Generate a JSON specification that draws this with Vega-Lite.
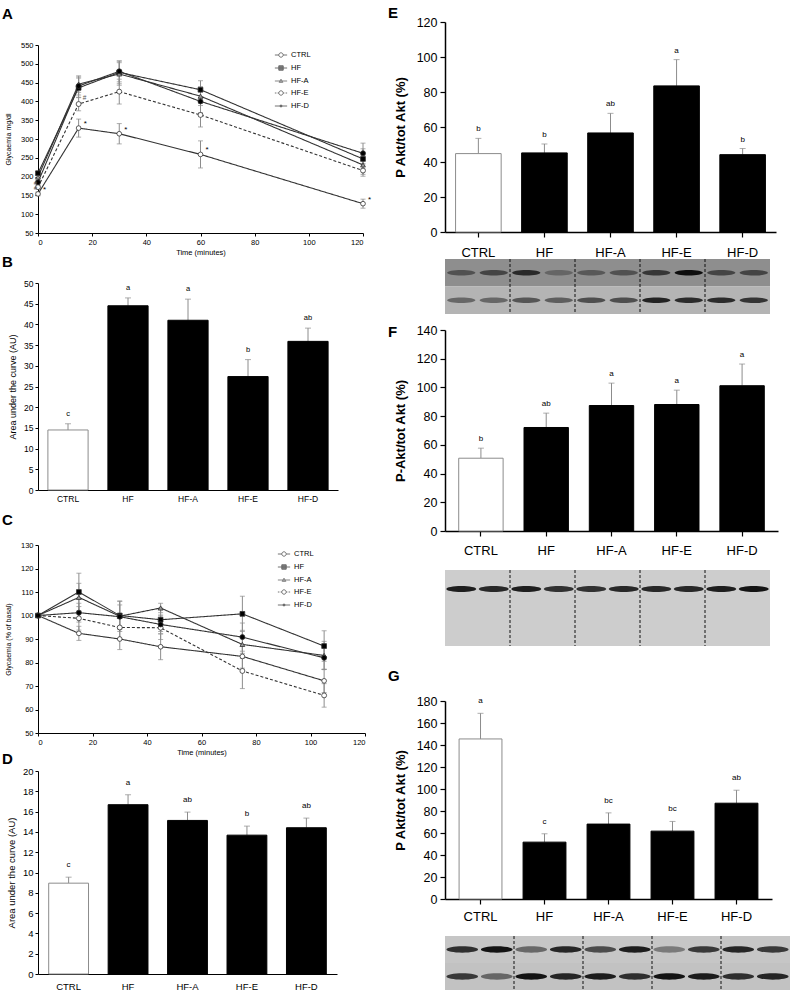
{
"$schema": "https://vega.github.io/schema/vega-lite/v6.json",
"background": "white",
"padding": {"left": 2, "top": 6, "right": 0, "bottom": 0},
"config": {
  "font": "Liberation Sans",
  "view": {"stroke": null},
  "axis": {"grid": false, "domainColor": "#000", "tickColor": "#000", "labelColor": "#000", "titleColor": "#000", "titleFontWeight": "normal", "domainWidth": 1, "tickWidth": 1},
  "title": {"anchor": "start", "frame": "group", "fontSize": 15, "fontWeight": "bold", "color": "#000"},
  "legend": {"labelColor": "#000"}
},
"datasets": {
  "glu": [
    {"t": 0, "g": "CTRL", "v": 154, "e": 5, "sig": "*"},
    {"t": 15, "g": "CTRL", "v": 329, "e": 24, "sig": "*"},
    {"t": 30, "g": "CTRL", "v": 314, "e": 27, "sig": "*"},
    {"t": 60, "g": "CTRL", "v": 259, "e": 36, "sig": "*"},
    {"t": 120, "g": "CTRL", "v": 128, "e": 12, "sig": "*"},
    {"t": 0, "g": "HF", "v": 209, "e": 5},
    {"t": 15, "g": "HF", "v": 436, "e": 26},
    {"t": 30, "g": "HF", "v": 477, "e": 30},
    {"t": 60, "g": "HF", "v": 431, "e": 24},
    {"t": 120, "g": "HF", "v": 247, "e": 27},
    {"t": 0, "g": "HF-A", "v": 199, "e": 5},
    {"t": 15, "g": "HF-A", "v": 446, "e": 22},
    {"t": 30, "g": "HF-A", "v": 473, "e": 30},
    {"t": 60, "g": "HF-A", "v": 414, "e": 25},
    {"t": 120, "g": "HF-A", "v": 231, "e": 25},
    {"t": 0, "g": "HF-E", "v": 172, "e": 5, "sig": "#"},
    {"t": 15, "g": "HF-E", "v": 393, "e": 18, "sig": "#"},
    {"t": 30, "g": "HF-E", "v": 426, "e": 33},
    {"t": 60, "g": "HF-E", "v": 364, "e": 32},
    {"t": 120, "g": "HF-E", "v": 216, "e": 15},
    {"t": 0, "g": "HF-D", "v": 185, "e": 5, "sig": "#"},
    {"t": 15, "g": "HF-D", "v": 441, "e": 24},
    {"t": 30, "g": "HF-D", "v": 480, "e": 28},
    {"t": 60, "g": "HF-D", "v": 400, "e": 30},
    {"t": 120, "g": "HF-D", "v": 262, "e": 27}
  ],
  "itt": [
    {"t": 0, "g": "CTRL", "v": 100, "e": 0},
    {"t": 15, "g": "CTRL", "v": 92.4, "e": 3},
    {"t": 30, "g": "CTRL", "v": 90, "e": 4.5},
    {"t": 45, "g": "CTRL", "v": 86.7, "e": 5.5},
    {"t": 75, "g": "CTRL", "v": 82.6, "e": 5},
    {"t": 105, "g": "CTRL", "v": 72.2, "e": 5},
    {"t": 0, "g": "HF", "v": 100, "e": 0},
    {"t": 15, "g": "HF", "v": 110, "e": 8},
    {"t": 30, "g": "HF", "v": 100, "e": 6},
    {"t": 45, "g": "HF", "v": 98.2, "e": 5},
    {"t": 75, "g": "HF", "v": 100.7, "e": 7.5},
    {"t": 105, "g": "HF", "v": 87, "e": 6.5},
    {"t": 0, "g": "HF-A", "v": 100, "e": 0},
    {"t": 15, "g": "HF-A", "v": 107.7, "e": 6},
    {"t": 30, "g": "HF-A", "v": 99.7, "e": 6.5},
    {"t": 45, "g": "HF-A", "v": 103.2, "e": 2},
    {"t": 75, "g": "HF-A", "v": 87.7, "e": 6},
    {"t": 105, "g": "HF-A", "v": 83, "e": 6},
    {"t": 0, "g": "HF-E", "v": 100, "e": 0},
    {"t": 15, "g": "HF-E", "v": 98.8, "e": 5},
    {"t": 30, "g": "HF-E", "v": 94.9, "e": 5},
    {"t": 45, "g": "HF-E", "v": 94.8, "e": 5},
    {"t": 75, "g": "HF-E", "v": 76.4, "e": 7.5},
    {"t": 105, "g": "HF-E", "v": 66, "e": 5},
    {"t": 0, "g": "HF-D", "v": 100, "e": 0},
    {"t": 15, "g": "HF-D", "v": 101.2, "e": 4},
    {"t": 30, "g": "HF-D", "v": 99.5, "e": 5},
    {"t": 45, "g": "HF-D", "v": 96.2, "e": 4},
    {"t": 75, "g": "HF-D", "v": 90.8, "e": 6},
    {"t": 105, "g": "HF-D", "v": 82, "e": 5}
  ],
  "barB": [
    {"g": "CTRL", "v": 14.5, "hi": 16.0, "lab": "c"},
    {"g": "HF", "v": 44.5, "hi": 46.4, "lab": "a"},
    {"g": "HF-A", "v": 41.0, "hi": 46.1, "lab": "a"},
    {"g": "HF-E", "v": 27.4, "hi": 31.5, "lab": "b"},
    {"g": "HF-D", "v": 35.9, "hi": 39.1, "lab": "ab"}
  ],
  "barD": [
    {"g": "CTRL", "v": 8.95, "hi": 9.54, "lab": "c"},
    {"g": "HF", "v": 16.68, "hi": 17.66, "lab": "a"},
    {"g": "HF-A", "v": 15.13, "hi": 15.95, "lab": "ab"},
    {"g": "HF-E", "v": 13.68, "hi": 14.57, "lab": "b"},
    {"g": "HF-D", "v": 14.41, "hi": 15.36, "lab": "ab"}
  ],
  "barE": [
    {"g": "CTRL", "v": 44.8, "hi": 53.5, "lab": "b"},
    {"g": "HF", "v": 45.2, "hi": 50.3, "lab": "b"},
    {"g": "HF-A", "v": 56.6, "hi": 67.8, "lab": "ab"},
    {"g": "HF-E", "v": 83.5, "hi": 98.5, "lab": "a"},
    {"g": "HF-D", "v": 44.2, "hi": 47.7, "lab": "b"}
  ],
  "barF": [
    {"g": "CTRL", "v": 50.7, "hi": 57.7, "lab": "b"},
    {"g": "HF", "v": 72.1, "hi": 82.1, "lab": "ab"},
    {"g": "HF-A", "v": 87.4, "hi": 103.0, "lab": "a"},
    {"g": "HF-E", "v": 88.1, "hi": 98.1, "lab": "a"},
    {"g": "HF-D", "v": 101.2, "hi": 116.3, "lab": "a"}
  ],
  "barG": [
    {"g": "CTRL", "v": 145.5, "hi": 168.8, "lab": "a"},
    {"g": "HF", "v": 51.7, "hi": 59.3, "lab": "c"},
    {"g": "HF-A", "v": 68.1, "hi": 78.3, "lab": "bc"},
    {"g": "HF-E", "v": 61.7, "hi": 70.5, "lab": "bc"},
    {"g": "HF-D", "v": 87.1, "hi": 98.9, "lab": "ab"}
  ],
  "rows": [{"row": "p"}, {"row": "t"}],
  "sep": [{"b": 2.5}, {"b": 4.5}, {"b": 6.5}, {"b": 8.5}],
  "blotE": [
    {"lane": 1, "row": "p", "int": 0.45}, {"lane": 2, "row": "p", "int": 0.55}, {"lane": 3, "row": "p", "int": 0.75}, {"lane": 4, "row": "p", "int": 0.3}, {"lane": 5, "row": "p", "int": 0.4},
    {"lane": 6, "row": "p", "int": 0.45}, {"lane": 7, "row": "p", "int": 0.65}, {"lane": 8, "row": "p", "int": 0.95}, {"lane": 9, "row": "p", "int": 0.55}, {"lane": 10, "row": "p", "int": 0.55},
    {"lane": 1, "row": "t", "int": 0.45}, {"lane": 2, "row": "t", "int": 0.45}, {"lane": 3, "row": "t", "int": 0.55}, {"lane": 4, "row": "t", "int": 0.5}, {"lane": 5, "row": "t", "int": 0.6},
    {"lane": 6, "row": "t", "int": 0.6}, {"lane": 7, "row": "t", "int": 0.85}, {"lane": 8, "row": "t", "int": 0.8}, {"lane": 9, "row": "t", "int": 0.8}, {"lane": 10, "row": "t", "int": 0.75}
  ],
  "blotF": [
    {"lane": 1, "row": "p", "int": 0.9}, {"lane": 2, "row": "p", "int": 0.85}, {"lane": 3, "row": "p", "int": 0.9}, {"lane": 4, "row": "p", "int": 0.8}, {"lane": 5, "row": "p", "int": 0.8},
    {"lane": 6, "row": "p", "int": 0.85}, {"lane": 7, "row": "p", "int": 0.85}, {"lane": 8, "row": "p", "int": 0.85}, {"lane": 9, "row": "p", "int": 0.9}, {"lane": 10, "row": "p", "int": 0.95}
  ],
  "blotG": [
    {"lane": 1, "row": "p", "int": 0.8}, {"lane": 2, "row": "p", "int": 0.95}, {"lane": 3, "row": "p", "int": 0.5}, {"lane": 4, "row": "p", "int": 0.85}, {"lane": 5, "row": "p", "int": 0.65},
    {"lane": 6, "row": "p", "int": 0.9}, {"lane": 7, "row": "p", "int": 0.4}, {"lane": 8, "row": "p", "int": 0.75}, {"lane": 9, "row": "p", "int": 0.85}, {"lane": 10, "row": "p", "int": 0.75},
    {"lane": 1, "row": "t", "int": 0.75}, {"lane": 2, "row": "t", "int": 0.5}, {"lane": 3, "row": "t", "int": 0.95}, {"lane": 4, "row": "t", "int": 0.85}, {"lane": 5, "row": "t", "int": 0.9},
    {"lane": 6, "row": "t", "int": 0.8}, {"lane": 7, "row": "t", "int": 0.95}, {"lane": 8, "row": "t", "int": 0.9}, {"lane": 9, "row": "t", "int": 0.8}, {"lane": 10, "row": "t", "int": 0.85}
  ]
},
"resolve": {"scale": {"fill": "independent", "stroke": "independent", "shape": "independent", "size": "independent", "strokeDash": "independent", "opacity": "independent"}},
"hconcat": [
  {"spacing": -19, "resolve": {"scale": {"fill": "independent", "stroke": "independent", "shape": "independent", "size": "independent", "strokeDash": "independent", "opacity": "independent"}}, "vconcat": [
    {"width": 10, "height": 1, "data": {"values": [{"k": 0}]}, "mark": {"type": "point", "opacity": 0}},
  {"spacing": 10, "resolve": {"scale": {"fill": "independent", "stroke": "independent", "shape": "independent", "size": "independent", "strokeDash": "independent", "opacity": "independent"}}, "vconcat": [
    {"spacing": -1, "resolve": {"scale": {"fill": "independent", "stroke": "independent", "shape": "independent", "size": "independent", "strokeDash": "independent", "opacity": "independent"}}, "vconcat": [
      {
        "width": 325, "height": 188,
        "title": {"text": "A", "dx": -36, "offset": 19},
        "data": {"name": "glu"},
        "encoding": {
          "x": {"field": "t", "type": "quantitative", "scale": {"domain": [0, 120], "nice": false}, "axis": {"values": [0, 20, 40, 60, 80, 100, 120], "title": "Time (minutes)", "labelFontSize": 7.5, "titleFontSize": 7.5, "tickSize": 3, "labelPadding": 2, "titlePadding": 3}},
          "y": {"field": "v", "type": "quantitative", "scale": {"domain": [50, 550], "nice": false, "zero": false}, "axis": {"values": [50, 100, 150, 200, 250, 300, 350, 400, 450, 500, 550], "title": "Glycaemia mg/dl", "labelFontSize": 7.5, "titleFontSize": 7, "tickSize": 3, "labelPadding": 2, "titlePadding": 9}}
        },
        "layer": [
          {"transform": [{"filter": "datum.e > 0"}], "mark": {"type": "errorbar", "color": "#8c8c8c", "ticks": {"size": 5}}, "encoding": {"yError": {"field": "e"}}},
          {"mark": {"type": "line", "color": "#333", "strokeWidth": 1.1}, "encoding": {"detail": {"field": "g"}, "strokeDash": {"field": "g", "type": "nominal", "scale": {"domain": ["CTRL", "HF", "HF-A", "HF-E", "HF-D"], "range": [[1, 0], [1, 0], [1, 0], [3, 2], [1, 0]]}, "legend": null}}},
          {"mark": {"type": "point", "filled": true, "stroke": "#333", "strokeWidth": 0.8, "opacity": 1}, "encoding": {
            "shape": {"field": "g", "type": "nominal", "scale": {"domain": ["CTRL", "HF", "HF-A", "HF-E", "HF-D"], "range": ["circle", "square", "triangle-up", "circle", "circle"]}, "legend": null},
            "fill": {"field": "g", "type": "nominal", "scale": {"domain": ["CTRL", "HF", "HF-A", "HF-E", "HF-D"], "range": ["white", "black", "#999", "white", "black"]}, "legend": null},
            "size": {"field": "g", "type": "ordinal", "scale": {"domain": ["CTRL", "HF", "HF-A", "HF-E", "HF-D"], "range": [22, 25, 16, 22, 7]}, "legend": null}}},
          {"transform": [{"filter": "datum.sig == '*'"}], "mark": {"type": "text", "align": "left", "dx": 5, "dy": -4, "fontSize": 8}, "encoding": {"text": {"field": "sig"}}},
          {"transform": [{"filter": "datum.sig == '#' && datum.t > 0"}], "mark": {"type": "text", "align": "left", "dx": 4, "dy": -6, "fontSize": 6.5, "color": "#555"}, "encoding": {"text": {"field": "sig"}}},
          {"transform": [{"filter": "datum.sig == '#' && datum.t == 0"}], "mark": {"type": "text", "align": "right", "dx": -1, "dy": 1, "fontSize": 6, "color": "#555"}, "encoding": {"text": {"field": "sig"}}},
          {"transform": [{"filter": "false"}], "mark": {"type": "point", "filled": true, "strokeWidth": 0.9}, "encoding": {
            "shape": {"field": "g", "type": "nominal", "scale": {"domain": ["CTRL", "HF", "HF-A", "HF-E", "HF-D"], "range": ["M-1,0H-0.36M0.36,0H1M0.36,0A0.36,0.36 0 1,1 -0.36,0A0.36,0.36 0 1,1 0.36,0Z", "M-1,0H1M-0.36,-0.36H0.36V0.36H-0.36Z", "M-1,0H1M0,-0.3L0.3,0.22H-0.3Z", "M-1,0H-0.75M-0.55,0H-0.36M0.36,0H0.55M0.75,0H1M0.36,0A0.36,0.36 0 1,1 -0.36,0A0.36,0.36 0 1,1 0.36,0Z", "M-1,0H1M0.17,0A0.17,0.17 0 1,1 -0.17,0A0.17,0.17 0 1,1 0.17,0Z"]}, "legend": {"title": null, "orient": "none", "legendX": 236, "legendY": 3, "labelFontSize": 7.5, "symbolSize": 150, "rowPadding": 1, "labelOffset": 3, "symbolStrokeWidth": 0.9}},
            "fill": {"field": "g", "type": "nominal", "scale": {"domain": ["CTRL", "HF", "HF-A", "HF-E", "HF-D"], "range": ["white", "black", "#999", "white", "black"]}, "legend": {"title": null, "orient": "none", "legendX": 236, "legendY": 3, "labelFontSize": 7.5, "symbolSize": 150, "rowPadding": 1, "labelOffset": 3, "symbolStrokeWidth": 0.9}},
            "stroke": {"field": "g", "type": "nominal", "scale": {"domain": ["CTRL", "HF", "HF-A", "HF-E", "HF-D"], "range": ["#222", "#222", "#444", "#222", "#222"]}, "legend": {"title": null, "orient": "none", "legendX": 236, "legendY": 3, "labelFontSize": 7.5, "symbolSize": 150, "rowPadding": 1, "labelOffset": 3, "symbolStrokeWidth": 0.9}}}}
        ],
        "resolve": {"scale": {"shape": "independent", "fill": "independent", "stroke": "independent"}}
      },
      {
        "width": 300, "height": 207,
        "title": {"text": "B", "dx": -36, "offset": 9},
        "data": {"name": "barB"},
        "encoding": {"x": {"field": "g", "type": "nominal", "sort": null, "scale": {"domain": ["CTRL", "HF", "HF-A", "HF-E", "HF-D"], "paddingInner": 0.33, "paddingOuter": 0.165}, "axis": {"title": null, "labelAngle": 0, "labelFontSize": 8.5, "ticks": false, "labelPadding": 4}}},
        "layer": [
          {"mark": {"type": "rule", "color": "#8c8c8c", "strokeWidth": 1}, "encoding": {"y": {"field": "v", "type": "quantitative", "title": "Area under the curve (AU)", "scale": {"domain": [0, 50], "nice": false}, "axis": {"values": [0, 5, 10, 15, 20, 25, 30, 35, 40, 45, 50], "labelFontSize": 8.5, "titleFontSize": 9, "tickSize": 3, "labelPadding": 2, "titlePadding": 6}}, "y2": {"field": "hi"}}},
          {"mark": {"type": "tick", "color": "#8c8c8c", "size": 6, "thickness": 1, "orient": "horizontal"}, "encoding": {"y": {"field": "hi", "type": "quantitative", "title": "Area under the curve (AU)", "scale": {"domain": [0, 50], "nice": false}, "axis": {"values": [0, 5, 10, 15, 20, 25, 30, 35, 40, 45, 50], "labelFontSize": 8.5, "titleFontSize": 9, "tickSize": 3, "labelPadding": 2, "titlePadding": 6}}}},
          {"mark": {"type": "bar", "strokeWidth": 1}, "encoding": {
            "y": {"field": "v", "type": "quantitative", "title": "Area under the curve (AU)", "scale": {"domain": [0, 50], "nice": false}, "axis": {"values": [0, 5, 10, 15, 20, 25, 30, 35, 40, 45, 50], "labelFontSize": 8.5, "titleFontSize": 9, "tickSize": 3, "labelPadding": 2, "titlePadding": 6}},
            "fill": {"field": "g", "type": "nominal", "scale": {"domain": ["CTRL", "HF", "HF-A", "HF-E", "HF-D"], "range": ["white", "black", "black", "black", "black"]}, "legend": null},
            "stroke": {"field": "g", "type": "nominal", "scale": {"domain": ["CTRL", "HF", "HF-A", "HF-E", "HF-D"], "range": ["#8c8c8c", "black", "black", "black", "black"]}, "legend": null}}},
          {"mark": {"type": "text", "baseline": "bottom", "dy": -6, "fontSize": 7.5}, "encoding": {"y": {"field": "hi", "type": "quantitative", "title": "Area under the curve (AU)", "scale": {"domain": [0, 50], "nice": false}, "axis": {"values": [0, 5, 10, 15, 20, 25, 30, 35, 40, 45, 50], "labelFontSize": 8.5, "titleFontSize": 9, "tickSize": 3, "labelPadding": 2, "titlePadding": 6}}, "text": {"field": "lab"}}}
        ]
      }
    ]},
    {"spacing": -4, "resolve": {"scale": {"fill": "independent", "stroke": "independent", "shape": "independent", "size": "independent", "strokeDash": "independent", "opacity": "independent"}}, "vconcat": [
      {
        "width": 327, "height": 188,
        "title": {"text": "C", "dx": -36, "offset": 13},
        "data": {"name": "itt"},
        "encoding": {
          "x": {"field": "t", "type": "quantitative", "scale": {"domain": [0, 120], "nice": false}, "axis": {"values": [0, 20, 40, 60, 80, 100, 120], "title": "Time (minutes)", "labelFontSize": 7.5, "titleFontSize": 7.5, "tickSize": 3, "labelPadding": 2, "titlePadding": 3}},
          "y": {"field": "v", "type": "quantitative", "scale": {"domain": [50, 130], "nice": false, "zero": false}, "axis": {"values": [50, 60, 70, 80, 90, 100, 110, 120, 130], "title": "Glycaemia (% of basal)", "labelFontSize": 7.5, "titleFontSize": 7, "tickSize": 3, "labelPadding": 2, "titlePadding": 9}}
        },
        "layer": [
          {"transform": [{"filter": "datum.e > 0"}], "mark": {"type": "errorbar", "color": "#8c8c8c", "ticks": {"size": 5}}, "encoding": {"yError": {"field": "e"}}},
          {"mark": {"type": "line", "color": "#333", "strokeWidth": 1.1}, "encoding": {"detail": {"field": "g"}, "strokeDash": {"field": "g", "type": "nominal", "scale": {"domain": ["CTRL", "HF", "HF-A", "HF-E", "HF-D"], "range": [[1, 0], [1, 0], [1, 0], [3, 2], [1, 0]]}, "legend": null}}},
          {"mark": {"type": "point", "filled": true, "stroke": "#333", "strokeWidth": 0.8, "opacity": 1}, "encoding": {
            "shape": {"field": "g", "type": "nominal", "scale": {"domain": ["CTRL", "HF", "HF-A", "HF-E", "HF-D"], "range": ["circle", "square", "triangle-up", "circle", "circle"]}, "legend": null},
            "fill": {"field": "g", "type": "nominal", "scale": {"domain": ["CTRL", "HF", "HF-A", "HF-E", "HF-D"], "range": ["white", "black", "#999", "white", "black"]}, "legend": null},
            "size": {"field": "g", "type": "ordinal", "scale": {"domain": ["CTRL", "HF", "HF-A", "HF-E", "HF-D"], "range": [22, 25, 16, 22, 7]}, "legend": null}}},
          {"transform": [{"filter": "false"}], "mark": {"type": "point", "filled": true, "strokeWidth": 0.9}, "encoding": {
            "shape": {"field": "g", "type": "nominal", "scale": {"domain": ["CTRL", "HF", "HF-A", "HF-E", "HF-D"], "range": ["M-1,0H-0.36M0.36,0H1M0.36,0A0.36,0.36 0 1,1 -0.36,0A0.36,0.36 0 1,1 0.36,0Z", "M-1,0H1M-0.36,-0.36H0.36V0.36H-0.36Z", "M-1,0H1M0,-0.3L0.3,0.22H-0.3Z", "M-1,0H-0.75M-0.55,0H-0.36M0.36,0H0.55M0.75,0H1M0.36,0A0.36,0.36 0 1,1 -0.36,0A0.36,0.36 0 1,1 0.36,0Z", "M-1,0H1M0.17,0A0.17,0.17 0 1,1 -0.17,0A0.17,0.17 0 1,1 0.17,0Z"]}, "legend": {"title": null, "orient": "none", "legendX": 239, "legendY": 2, "labelFontSize": 7.5, "symbolSize": 150, "rowPadding": 1, "labelOffset": 3, "symbolStrokeWidth": 0.9}},
            "fill": {"field": "g", "type": "nominal", "scale": {"domain": ["CTRL", "HF", "HF-A", "HF-E", "HF-D"], "range": ["white", "black", "#999", "white", "black"]}, "legend": {"title": null, "orient": "none", "legendX": 239, "legendY": 2, "labelFontSize": 7.5, "symbolSize": 150, "rowPadding": 1, "labelOffset": 3, "symbolStrokeWidth": 0.9}},
            "stroke": {"field": "g", "type": "nominal", "scale": {"domain": ["CTRL", "HF", "HF-A", "HF-E", "HF-D"], "range": ["#222", "#222", "#444", "#222", "#222"]}, "legend": {"title": null, "orient": "none", "legendX": 239, "legendY": 2, "labelFontSize": 7.5, "symbolSize": 150, "rowPadding": 1, "labelOffset": 3, "symbolStrokeWidth": 0.9}}}}
        ],
        "resolve": {"scale": {"shape": "independent", "fill": "independent", "stroke": "independent"}}
      },
      {
        "width": 299, "height": 203,
        "title": {"text": "D", "dx": -36, "offset": -1},
        "data": {"name": "barD"},
        "encoding": {"x": {"field": "g", "type": "nominal", "sort": null, "scale": {"domain": ["CTRL", "HF", "HF-A", "HF-E", "HF-D"], "paddingInner": 0.33, "paddingOuter": 0.18}, "axis": {"title": null, "labelAngle": 0, "labelFontSize": 9.5, "ticks": false, "labelPadding": 7}}},
        "layer": [
          {"mark": {"type": "rule", "color": "#8c8c8c", "strokeWidth": 1}, "encoding": {"y": {"field": "v", "type": "quantitative", "title": "Area under the curve (AU)", "scale": {"domain": [0, 20], "nice": false}, "axis": {"values": [0, 2, 4, 6, 8, 10, 12, 14, 16, 18, 20], "labelFontSize": 9.5, "titleFontSize": 9.5, "tickSize": 3, "labelPadding": 2, "titlePadding": 6}}, "y2": {"field": "hi"}}},
          {"mark": {"type": "tick", "color": "#8c8c8c", "size": 6, "thickness": 1, "orient": "horizontal"}, "encoding": {"y": {"field": "hi", "type": "quantitative", "title": "Area under the curve (AU)", "scale": {"domain": [0, 20], "nice": false}, "axis": {"values": [0, 2, 4, 6, 8, 10, 12, 14, 16, 18, 20], "labelFontSize": 9.5, "titleFontSize": 9.5, "tickSize": 3, "labelPadding": 2, "titlePadding": 6}}}},
          {"mark": {"type": "bar", "strokeWidth": 1}, "encoding": {
            "y": {"field": "v", "type": "quantitative", "title": "Area under the curve (AU)", "scale": {"domain": [0, 20], "nice": false}, "axis": {"values": [0, 2, 4, 6, 8, 10, 12, 14, 16, 18, 20], "labelFontSize": 9.5, "titleFontSize": 9.5, "tickSize": 3, "labelPadding": 2, "titlePadding": 6}},
            "fill": {"field": "g", "type": "nominal", "scale": {"domain": ["CTRL", "HF", "HF-A", "HF-E", "HF-D"], "range": ["white", "black", "black", "black", "black"]}, "legend": null},
            "stroke": {"field": "g", "type": "nominal", "scale": {"domain": ["CTRL", "HF", "HF-A", "HF-E", "HF-D"], "range": ["#8c8c8c", "black", "black", "black", "black"]}, "legend": null}}},
          {"mark": {"type": "text", "baseline": "bottom", "dy": -8, "fontSize": 8}, "encoding": {"y": {"field": "hi", "type": "quantitative", "title": "Area under the curve (AU)", "scale": {"domain": [0, 20], "nice": false}, "axis": {"values": [0, 2, 4, 6, 8, 10, 12, 14, 16, 18, 20], "labelFontSize": 9.5, "titleFontSize": 9.5, "tickSize": 3, "labelPadding": 2, "titlePadding": 6}}, "text": {"field": "lab"}}}
        ]
      }
    ]}
  ]}
  ]},
  {"spacing": 9, "resolve": {"scale": {"fill": "independent", "stroke": "independent", "shape": "independent", "size": "independent", "strokeDash": "independent", "opacity": "independent"}}, "vconcat": [
    {"spacing": -3, "resolve": {"scale": {"fill": "independent", "stroke": "independent", "shape": "independent", "size": "independent", "strokeDash": "independent", "opacity": "independent"}}, "vconcat": [
      {
        "width": 331, "height": 210,
        "title": {"text": "E", "dx": -57, "offset": -5},
        "data": {"name": "barE"},
        "encoding": {"x": {"field": "g", "type": "nominal", "sort": null, "scale": {"domain": ["CTRL", "HF", "HF-A", "HF-E", "HF-D"], "paddingInner": 0.31, "paddingOuter": 0.16}, "axis": {"title": null, "labelAngle": 0, "labelFontSize": 13, "tickSize": 5, "labelPadding": 9, "domainWidth": 1.5, "tickWidth": 1.2}}},
        "layer": [
          {"mark": {"type": "rule", "color": "#8c8c8c", "strokeWidth": 1}, "encoding": {"y": {"field": "v", "type": "quantitative", "title": "P Akt/tot Akt (%)", "scale": {"domain": [0, 120], "nice": false}, "axis": {"values": [0, 20, 40, 60, 80, 100, 120], "labelFontSize": 12.5, "titleFontSize": 13, "titleFontWeight": "bold", "tickSize": 5, "labelPadding": 3, "titlePadding": 9, "domainWidth": 1.5, "tickWidth": 1.2}}, "y2": {"field": "hi"}}},
          {"mark": {"type": "tick", "color": "#8c8c8c", "size": 6, "thickness": 1, "orient": "horizontal"}, "encoding": {"y": {"field": "hi", "type": "quantitative", "title": "P Akt/tot Akt (%)", "scale": {"domain": [0, 120], "nice": false}, "axis": {"values": [0, 20, 40, 60, 80, 100, 120], "labelFontSize": 12.5, "titleFontSize": 13, "titleFontWeight": "bold", "tickSize": 5, "labelPadding": 3, "titlePadding": 9, "domainWidth": 1.5, "tickWidth": 1.2}}}},
          {"mark": {"type": "bar", "strokeWidth": 1}, "encoding": {
            "y": {"field": "v", "type": "quantitative", "title": "P Akt/tot Akt (%)", "scale": {"domain": [0, 120], "nice": false}, "axis": {"values": [0, 20, 40, 60, 80, 100, 120], "labelFontSize": 12.5, "titleFontSize": 13, "titleFontWeight": "bold", "tickSize": 5, "labelPadding": 3, "titlePadding": 9, "domainWidth": 1.5, "tickWidth": 1.2}},
            "fill": {"field": "g", "type": "nominal", "scale": {"domain": ["CTRL", "HF", "HF-A", "HF-E", "HF-D"], "range": ["white", "black", "black", "black", "black"]}, "legend": null},
            "stroke": {"field": "g", "type": "nominal", "scale": {"domain": ["CTRL", "HF", "HF-A", "HF-E", "HF-D"], "range": ["#8c8c8c", "black", "black", "black", "black"]}, "legend": null}}},
          {"mark": {"type": "text", "baseline": "bottom", "dy": -5, "fontSize": 8}, "encoding": {"y": {"field": "hi", "type": "quantitative", "title": "P Akt/tot Akt (%)", "scale": {"domain": [0, 120], "nice": false}, "axis": {"values": [0, 20, 40, 60, 80, 100, 120], "labelFontSize": 12.5, "titleFontSize": 13, "titleFontWeight": "bold", "tickSize": 5, "labelPadding": 3, "titlePadding": 9, "domainWidth": 1.5, "tickWidth": 1.2}}, "text": {"field": "lab"}}}
        ]
      },
      {
        "width": 325, "height": 55,
        "layer": [
          {"data": {"name": "rows"}, "mark": {"type": "rect"}, "encoding": {"x": {"datum": 0.5, "type": "quantitative", "scale": {"domain": [0.5, 10.5], "nice": false, "zero": false}, "axis": null}, "x2": {"datum": 10.5}, "y": {"field": "row", "type": "nominal", "axis": null, "scale": {"domain": ["p", "t"], "paddingInner": 0, "paddingOuter": 0}}, "fill": {"field": "row", "type": "nominal", "scale": {"domain": ["p", "t"], "range": ["#8e8e8e", "#b4b4b4"]}, "legend": null}}},
          {"data": {"name": "blotE"}, "mark": {"type": "point", "shape": "M-1,0A1,0.2 0 1,0 1,0A1,0.2 0 1,0 -1,0Z", "filled": true, "color": "black", "size": 800, "strokeWidth": 0}, "encoding": {"x": {"field": "lane", "type": "quantitative", "axis": null, "scale": {"domain": [0.5, 10.5], "nice": false, "zero": false}}, "y": {"field": "row", "type": "nominal", "axis": null, "scale": {"domain": ["p", "t"], "paddingInner": 0, "paddingOuter": 0}}, "opacity": {"field": "int", "type": "quantitative", "scale": {"domain": [0, 1], "range": [0, 0.95]}, "legend": null}}},
          {"data": {"name": "sep"}, "mark": {"type": "rule", "strokeDash": [3, 2], "color": "#111", "strokeWidth": 1}, "encoding": {"x": {"field": "b", "type": "quantitative", "axis": null, "scale": {"domain": [0.5, 10.5], "nice": false, "zero": false}}}}
        ]
      }
    ]},
    {"spacing": 22, "resolve": {"scale": {"fill": "independent", "stroke": "independent", "shape": "independent", "size": "independent", "strokeDash": "independent", "opacity": "independent"}}, "vconcat": [
      {"spacing": 12, "resolve": {"scale": {"fill": "independent", "stroke": "independent", "shape": "independent", "size": "independent", "strokeDash": "independent", "opacity": "independent"}}, "vconcat": [
        {
          "width": 333, "height": 201,
          "title": {"text": "F", "dx": -57, "offset": 0, "dy": 16},
          "data": {"name": "barF"},
          "encoding": {"x": {"field": "g", "type": "nominal", "sort": null, "scale": {"domain": ["CTRL", "HF", "HF-A", "HF-E", "HF-D"], "paddingInner": 0.32, "paddingOuter": 0.21}, "axis": {"title": null, "labelAngle": 0, "labelFontSize": 13, "tickSize": 5, "labelPadding": 8, "domainWidth": 1.5, "tickWidth": 1.2}}},
          "layer": [
            {"mark": {"type": "rule", "color": "#8c8c8c", "strokeWidth": 1}, "encoding": {"y": {"field": "v", "type": "quantitative", "title": "P-Akt/tot Akt (%)", "scale": {"domain": [0, 140], "nice": false}, "axis": {"values": [0, 20, 40, 60, 80, 100, 120, 140], "labelFontSize": 12.5, "titleFontSize": 13, "titleFontWeight": "bold", "tickSize": 5, "labelPadding": 3, "titlePadding": 9, "domainWidth": 1.5, "tickWidth": 1.2}}, "y2": {"field": "hi"}}},
            {"mark": {"type": "tick", "color": "#8c8c8c", "size": 6, "thickness": 1, "orient": "horizontal"}, "encoding": {"y": {"field": "hi", "type": "quantitative", "title": "P-Akt/tot Akt (%)", "scale": {"domain": [0, 140], "nice": false}, "axis": {"values": [0, 20, 40, 60, 80, 100, 120, 140], "labelFontSize": 12.5, "titleFontSize": 13, "titleFontWeight": "bold", "tickSize": 5, "labelPadding": 3, "titlePadding": 9, "domainWidth": 1.5, "tickWidth": 1.2}}}},
            {"mark": {"type": "bar", "strokeWidth": 1}, "encoding": {
              "y": {"field": "v", "type": "quantitative", "title": "P-Akt/tot Akt (%)", "scale": {"domain": [0, 140], "nice": false}, "axis": {"values": [0, 20, 40, 60, 80, 100, 120, 140], "labelFontSize": 12.5, "titleFontSize": 13, "titleFontWeight": "bold", "tickSize": 5, "labelPadding": 3, "titlePadding": 9, "domainWidth": 1.5, "tickWidth": 1.2}},
              "fill": {"field": "g", "type": "nominal", "scale": {"domain": ["CTRL", "HF", "HF-A", "HF-E", "HF-D"], "range": ["white", "black", "black", "black", "black"]}, "legend": null},
              "stroke": {"field": "g", "type": "nominal", "scale": {"domain": ["CTRL", "HF", "HF-A", "HF-E", "HF-D"], "range": ["#8c8c8c", "black", "black", "black", "black"]}, "legend": null}}},
            {"mark": {"type": "text", "baseline": "bottom", "dy": -5, "fontSize": 8}, "encoding": {"y": {"field": "hi", "type": "quantitative", "title": "P-Akt/tot Akt (%)", "scale": {"domain": [0, 140], "nice": false}, "axis": {"values": [0, 20, 40, 60, 80, 100, 120, 140], "labelFontSize": 12.5, "titleFontSize": 13, "titleFontWeight": "bold", "tickSize": 5, "labelPadding": 3, "titlePadding": 9, "domainWidth": 1.5, "tickWidth": 1.2}}, "text": {"field": "lab"}}}
          ]
        },
        {
          "width": 325, "height": 76,
          "layer": [
            {"data": {"name": "rows"}, "mark": {"type": "rect"}, "encoding": {"x": {"datum": 0.5, "type": "quantitative", "scale": {"domain": [0.5, 10.5], "nice": false, "zero": false}, "axis": null}, "x2": {"datum": 10.5}, "y": {"field": "row", "type": "nominal", "axis": null, "scale": {"domain": ["p", "t"], "paddingInner": 0, "paddingOuter": 0}}, "fill": {"field": "row", "type": "nominal", "scale": {"domain": ["p", "t"], "range": ["#cdcdcd", "#cdcdcd"]}, "legend": null}}},
            {"data": {"name": "blotF"}, "mark": {"type": "point", "shape": "M-1,0A1,0.2 0 1,0 1,0A1,0.2 0 1,0 -1,0Z", "filled": true, "color": "black", "size": 900, "strokeWidth": 0}, "encoding": {"x": {"field": "lane", "type": "quantitative", "axis": null, "scale": {"domain": [0.5, 10.5], "nice": false, "zero": false}}, "y": {"field": "row", "type": "nominal", "axis": null, "scale": {"domain": ["p", "t"], "paddingInner": 0, "paddingOuter": 0}}, "opacity": {"field": "int", "type": "quantitative", "scale": {"domain": [0, 1], "range": [0, 0.95]}, "legend": null}}},
            {"data": {"name": "sep"}, "mark": {"type": "rule", "strokeDash": [3, 2], "color": "#111", "strokeWidth": 1}, "encoding": {"x": {"field": "b", "type": "quantitative", "axis": null, "scale": {"domain": [0.5, 10.5], "nice": false, "zero": false}}}}
          ]
        }
      ]},
      {"spacing": 12, "resolve": {"scale": {"fill": "independent", "stroke": "independent", "shape": "independent", "size": "independent", "strokeDash": "independent", "opacity": "independent"}}, "vconcat": [
        {
          "width": 327, "height": 198,
          "title": {"text": "G", "dx": -57, "offset": 11},
          "data": {"name": "barG"},
          "encoding": {"x": {"field": "g", "type": "nominal", "sort": null, "scale": {"domain": ["CTRL", "HF", "HF-A", "HF-E", "HF-D"], "paddingInner": 0.33, "paddingOuter": 0.22}, "axis": {"title": null, "labelAngle": 0, "labelFontSize": 13, "tickSize": 5, "labelPadding": 6, "domainWidth": 1.5, "tickWidth": 1.2}}},
          "layer": [
            {"mark": {"type": "rule", "color": "#8c8c8c", "strokeWidth": 1}, "encoding": {"y": {"field": "v", "type": "quantitative", "title": "P Akt/tot Akt (%)", "scale": {"domain": [0, 180], "nice": false}, "axis": {"values": [0, 20, 40, 60, 80, 100, 120, 140, 160, 180], "labelFontSize": 12.5, "titleFontSize": 13, "titleFontWeight": "bold", "tickSize": 5, "labelPadding": 3, "titlePadding": 9, "domainWidth": 1.5, "tickWidth": 1.2}}, "y2": {"field": "hi"}}},
            {"mark": {"type": "tick", "color": "#8c8c8c", "size": 6, "thickness": 1, "orient": "horizontal"}, "encoding": {"y": {"field": "hi", "type": "quantitative", "title": "P Akt/tot Akt (%)", "scale": {"domain": [0, 180], "nice": false}, "axis": {"values": [0, 20, 40, 60, 80, 100, 120, 140, 160, 180], "labelFontSize": 12.5, "titleFontSize": 13, "titleFontWeight": "bold", "tickSize": 5, "labelPadding": 3, "titlePadding": 9, "domainWidth": 1.5, "tickWidth": 1.2}}}},
            {"mark": {"type": "bar", "strokeWidth": 1}, "encoding": {
              "y": {"field": "v", "type": "quantitative", "title": "P Akt/tot Akt (%)", "scale": {"domain": [0, 180], "nice": false}, "axis": {"values": [0, 20, 40, 60, 80, 100, 120, 140, 160, 180], "labelFontSize": 12.5, "titleFontSize": 13, "titleFontWeight": "bold", "tickSize": 5, "labelPadding": 3, "titlePadding": 9, "domainWidth": 1.5, "tickWidth": 1.2}},
              "fill": {"field": "g", "type": "nominal", "scale": {"domain": ["CTRL", "HF", "HF-A", "HF-E", "HF-D"], "range": ["white", "black", "black", "black", "black"]}, "legend": null},
              "stroke": {"field": "g", "type": "nominal", "scale": {"domain": ["CTRL", "HF", "HF-A", "HF-E", "HF-D"], "range": ["#8c8c8c", "black", "black", "black", "black"]}, "legend": null}}},
            {"mark": {"type": "text", "baseline": "bottom", "dy": -8, "fontSize": 8}, "encoding": {"y": {"field": "hi", "type": "quantitative", "title": "P Akt/tot Akt (%)", "scale": {"domain": [0, 180], "nice": false}, "axis": {"values": [0, 20, 40, 60, 80, 100, 120, 140, 160, 180], "labelFontSize": 12.5, "titleFontSize": 13, "titleFontWeight": "bold", "tickSize": 5, "labelPadding": 3, "titlePadding": 9, "domainWidth": 1.5, "tickWidth": 1.2}}, "text": {"field": "lab"}}}
          ]
        },
        {
          "width": 345, "height": 54,
          "layer": [
            {"data": {"name": "rows"}, "mark": {"type": "rect"}, "encoding": {"x": {"datum": 0.5, "type": "quantitative", "scale": {"domain": [0.5, 10.5], "nice": false, "zero": false}, "axis": null}, "x2": {"datum": 10.5}, "y": {"field": "row", "type": "nominal", "axis": null, "scale": {"domain": ["p", "t"], "paddingInner": 0, "paddingOuter": 0}}, "fill": {"field": "row", "type": "nominal", "scale": {"domain": ["p", "t"], "range": ["#c6c6c6", "#c2c2c2"]}, "legend": null}}},
            {"data": {"name": "blotG"}, "mark": {"type": "point", "shape": "M-1,0A1,0.2 0 1,0 1,0A1,0.2 0 1,0 -1,0Z", "filled": true, "color": "black", "size": 1000, "strokeWidth": 0}, "encoding": {"x": {"field": "lane", "type": "quantitative", "axis": null, "scale": {"domain": [0.5, 10.5], "nice": false, "zero": false}}, "y": {"field": "row", "type": "nominal", "axis": null, "scale": {"domain": ["p", "t"], "paddingInner": 0, "paddingOuter": 0}}, "opacity": {"field": "int", "type": "quantitative", "scale": {"domain": [0, 1], "range": [0, 0.95]}, "legend": null}}},
            {"data": {"name": "sep"}, "mark": {"type": "rule", "strokeDash": [3, 2], "color": "#111", "strokeWidth": 1}, "encoding": {"x": {"field": "b", "type": "quantitative", "axis": null, "scale": {"domain": [0.5, 10.5], "nice": false, "zero": false}}}}
          ]
        }
      ]}
    ]}
  ]}
],
"spacing": 16
}
